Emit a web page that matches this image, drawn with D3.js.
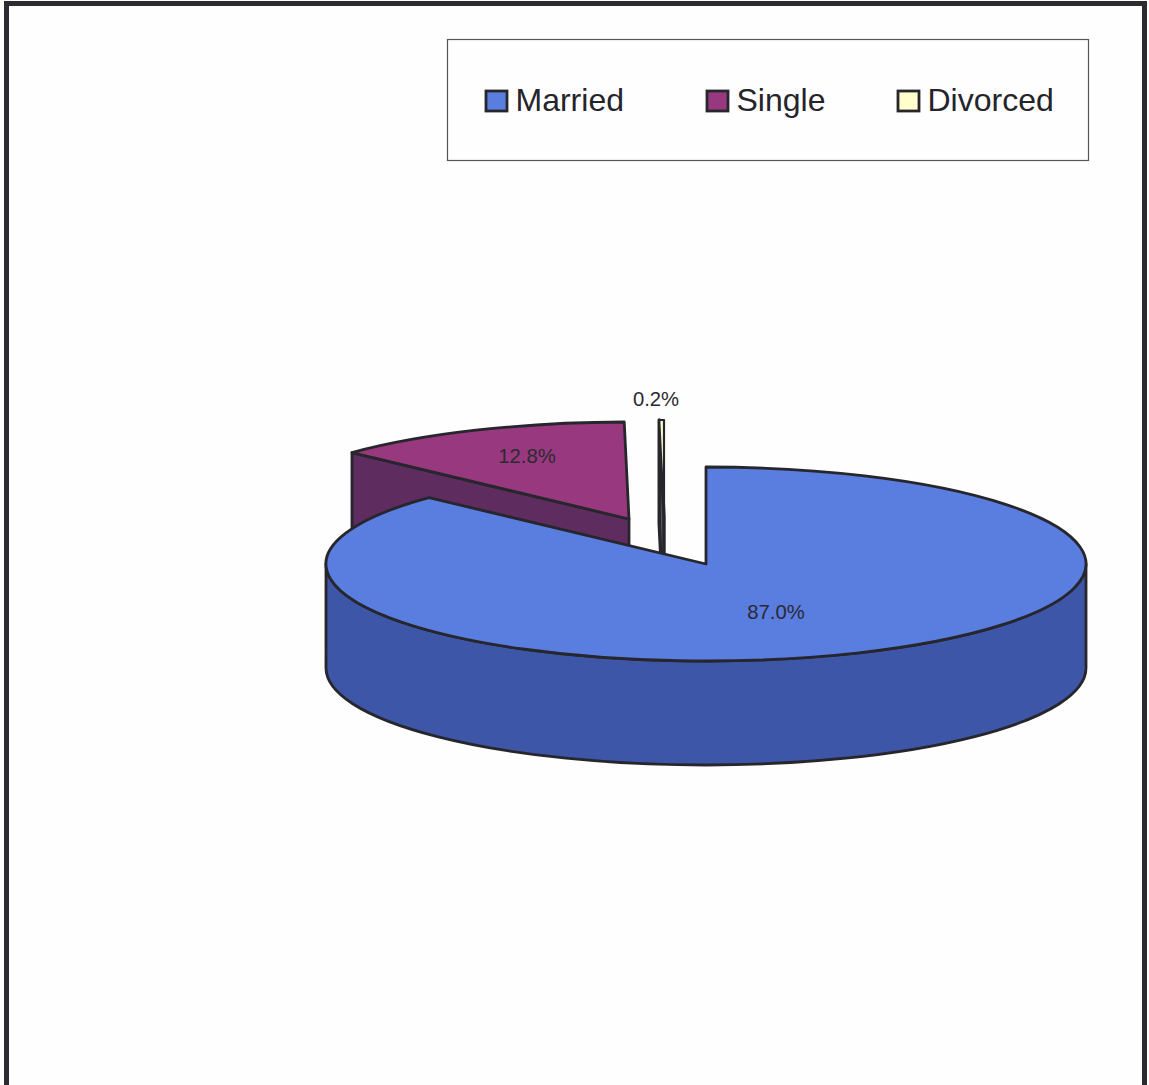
<!DOCTYPE html>
<html><head><meta charset="utf-8">
<script src="https://cdn.jsdelivr.net/npm/d3@7/dist/d3.min.js"></script>
<style>html,body{margin:0;padding:0;background:#fefefe}svg{display:block}text{font-family:"Liberation Sans",Arial,sans-serif}</style>
</head><body><svg id="c" width="1149" height="1085"></svg>
<script>
const categories = ["Married", "Single", "Divorced"];
const percentages = [87.0, 12.8, 0.2];
const valueLabels = ["87.0%", "12.8%", "0.2%"];

const topColors  = ["#5a7de0", "#98397f", "#ffffcc"];
const sideColors = ["#3e56a8", "#5e2c5e", "#56565a"];
const ink = "#26262c";

const svg = d3.select("#c");
const rx = 380, ry = 97, depth = 104;
const outlines = [2.8, 2.8, 3.4];

// exploded centres on the page
const centres = [[706, 564], [629, 519], [664, 517]];
const labelPos = [[776, 619], [527, 463], [656, 406]];

const arcs = d3.pie().sort(null).value(d => d)(percentages);
const pt = (a, c, dy = 0) => [c[0] + rx * Math.sin(a), c[1] - ry * Math.cos(a) + dy];

function topPath(d, c) {
  const p0 = pt(d.startAngle, c), p1 = pt(d.endAngle, c);
  const large = d.endAngle - d.startAngle > Math.PI ? 1 : 0;
  return `M${c}L${p0}A${rx},${ry} 0 ${large} 1 ${p1}Z`;
}
function cutFace(a, c) {
  const o = pt(a, c), ob = pt(a, c, depth), ab = [c[0], c[1] + depth];
  return `M${o}L${c}L${ab}L${ob}Z`;
}
function frontWall(c) {
  const l = pt(-Math.PI / 2, c), r = pt(Math.PI / 2, c);
  const lb = pt(-Math.PI / 2, c, depth), rb = pt(Math.PI / 2, c, depth);
  return `M${l}A${rx},${ry} 0 0 0 ${r}L${rb}A${rx},${ry} 0 0 1 ${lb}Z`;
}

const g = svg.append("g").attr("stroke", ink).attr("stroke-linejoin", "round");

// back slices first, main slice last so that it covers them
[1, 2].forEach(i => {
  const d = arcs[i], c = centres[i];
  g.append("path").attr("d", cutFace(d.startAngle, c)).attr("fill", sideColors[i]).attr("stroke-width", outlines[i]);
  g.append("path").attr("d", topPath(d, c)).attr("fill", topColors[i]).attr("stroke-width", i === 2 ? 2.2 : outlines[i]);
});
g.append("path").attr("d", frontWall(centres[0])).attr("fill", sideColors[0]).attr("stroke-width", outlines[0]);
g.append("path").attr("d", topPath(arcs[0], centres[0])).attr("fill", topColors[0]).attr("stroke-width", outlines[0]);

// value labels
svg.selectAll("text.v").data(valueLabels).join("text").attr("class", "v")
  .attr("x", (d, i) => labelPos[i][0]).attr("y", (d, i) => labelPos[i][1])
  .attr("text-anchor", "middle").attr("font-size", 20.3).attr("fill", "#2a2a30")
  .text(d => d);

// legend
svg.append("rect").attr("x", 447.5).attr("y", 39.5).attr("width", 641).attr("height", 121)
  .attr("fill", "none").attr("stroke", "#55555c").attr("stroke-width", 1.2);
const swatchX = d3.scaleOrdinal().domain(categories).range([486, 707, 898]);
const leg = svg.selectAll("g.l").data(categories).join("g").attr("class", "l")
  .attr("transform", d => `translate(${swatchX(d)},0)`);
leg.append("rect").attr("y", 91).attr("width", 21).attr("height", 20)
  .attr("fill", (d, i) => topColors[i]).attr("stroke", ink).attr("stroke-width", 2.8);
leg.append("text").attr("x", 29.5).attr("y", 111).attr("font-size", 32).attr("fill", "#24242a").text(d => d);

// page frame (open at the bottom)
svg.append("path").attr("d", "M6.5,1085V3.5H1144.5V1085")
  .attr("fill", "none").attr("stroke", "#2b2b31").attr("stroke-width", 5);
</script></body></html>
